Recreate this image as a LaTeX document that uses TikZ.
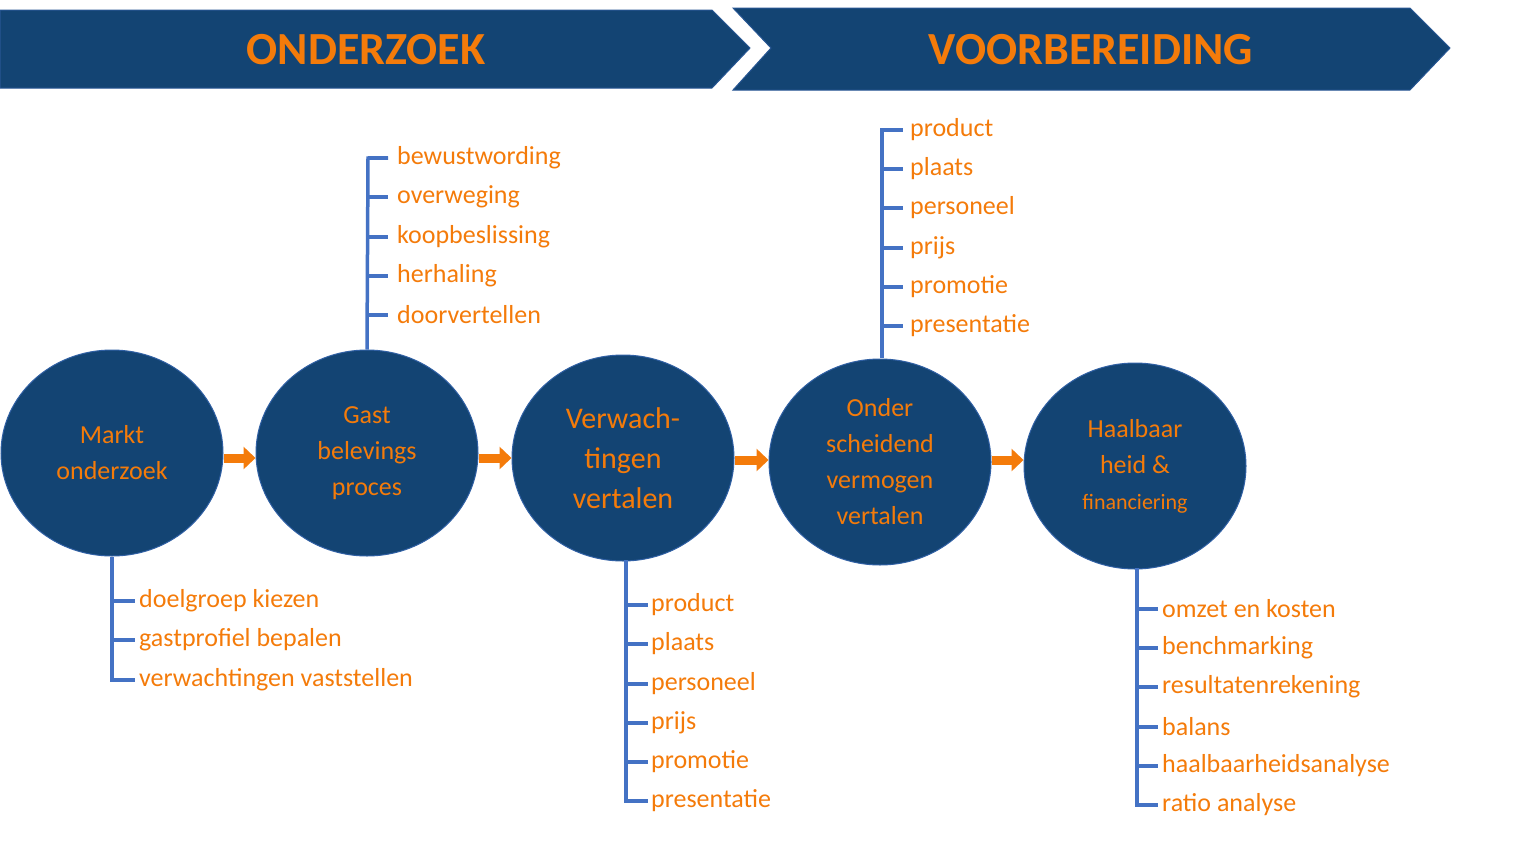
\documentclass[tikz,border=0pt]{standalone}
\usepackage{fontspec}
\setmainfont{Carlito}
\usetikzlibrary{arrows.meta,shapes.geometric}
\definecolor{navy}{HTML}{134473}
\definecolor{org}{HTML}{F47B0A}
\definecolor{brk}{HTML}{4472C4}
\begin{document}
\begin{tikzpicture}[x=1pt,y=-1pt,
  circ/.style={ellipse,fill=navy,draw=brk!60!navy,line width=1pt,minimum width=222pt,minimum height=206pt,text=org,font=\fontsize{26}{36}\selectfont,align=center,inner sep=0pt},
  item/.style={anchor=west,text=org,font=\fontsize{26}{26}\selectfont,inner sep=0pt},
  br/.style={draw=brk,line width=3.5pt},
  arr/.style={draw=org,line width=9pt,-{Triangle[length=12pt,width=22pt]}},
  ban/.style={fill=navy,draw=brk!40!navy,line width=1pt},
  title/.style={text=org,font=\fontsize{46}{46}\selectfont\bfseries}]
\useasboundingbox (0,0) rectangle (1536,841);
\path[ban] (0,10) -- (712,10) -- (750,48) -- (712,88) -- (0,88) -- cycle;
\path[ban] (733,8) -- (1410,8) -- (1450,48) -- (1410,90) -- (733,90) -- (771,48) -- cycle;
\node[title] (t1) at (366,50) {ONDERZOEK};
\node[title] (t2) at (1091,50) {VOORBEREIDING};
\node[circ] (c1) at (112,453) {Markt\\onderzoek};
\node[circ] (c2) at (367,453) {Gast\\belevings\\proces};
\node[circ,font=\fontsize{30}{40}\selectfont] (c3) at (623,458) {Verwach-\\tingen\\vertalen};
\node[circ] (c4) at (880,462) {Onder\\scheidend\\vermogen\\vertalen};
\node[circ] (c5) at (1135,466) {Haalbaar\\heid \&\\{\fontsize{22}{30}\selectfont financiering}};
\draw[arr] (c1.east|-0,458) -- (c2.west|-0,458);
\draw[arr] (c2.east|-0,458) -- (c3.west|-0,458);
\draw[arr] (c3.east|-0,460) -- (c4.west|-0,460);
\draw[arr] (c4.east|-0,460) -- (c5.west|-0,460);
% brackets
\coordinate (b1) at (112,680);
\draw[br] (c1.south) -- (b1) -- (135,680);
\foreach \y/\t in {601/doelgroep kiezen,640/gastprofiel bepalen,680/verwachtingen vaststellen}{
  \draw[br] (112,\y) -- (135,\y); \node[item] at (139,\y) {\t};}
\coordinate (b2) at (368,158);
\draw[br] (c2.north) -- (b2) -- (388,158);
\foreach \y/\t in {158/bewustwording,197/overweging,237/koopbeslissing,276/herhaling,315/doorvertellen}{
  \draw[br] (368,\y) -- (388,\y); \node[item] at (397,\y) {\t};}
\coordinate (b3) at (626,801);
\draw[br] (626,560) -- (b3) -- (648,801);
\foreach \y/\t in {605/product,644/plaats,684/personeel,723/prijs,762/promotie,801/presentatie}{
  \draw[br] (626,\y) -- (648,\y); \node[item] at (651,\y) {\t};}
\coordinate (b4) at (882,130);
\draw[br] (882,358) -- (b4) -- (903,130);
\foreach \y/\t in {130/product,169/plaats,208/personeel,248/prijs,287/promotie,326/presentatie}{
  \draw[br] (882,\y) -- (903,\y); \node[item] at (910,\y) {\t};}
\coordinate (b5) at (1137,805);
\draw[br] (1137,568) -- (b5) -- (1158,805);
\foreach \y/\t in {609/omzet en kosten,648/benchmarking,687/resultatenrekening,727/balans,766/haalbaarheidsanalyse,805/ratio analyse}{
  \draw[br] (1137,\y) -- (1158,\y); \node[item] at (1162,\y) {\t};}
\end{tikzpicture}
\end{document}
